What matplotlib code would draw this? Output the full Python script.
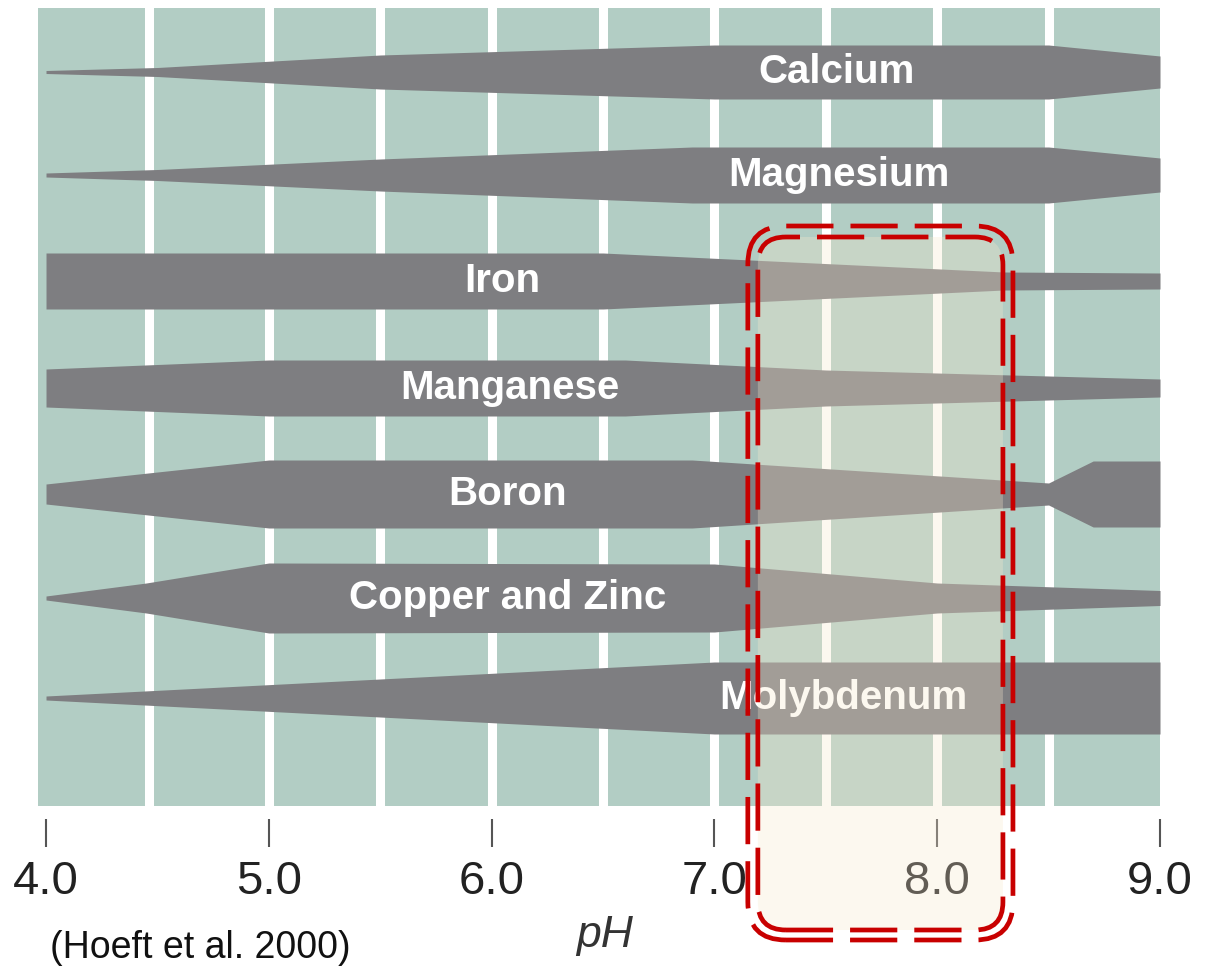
# Nutrient availability vs. soil pH (after Hoeft et al. 2000)
# band thickness = relative availability

import matplotlib.pyplot as plt
from matplotlib.patches import FancyBboxPatch
from matplotlib.transforms import IdentityTransform

plt.rcParams['font.family'] = ['Liberation Sans', 'DejaVu Sans']

nutrients = ["Calcium", "Magnesium", "Iron", "Manganese", "Boron",
             "Copper and Zinc", "Molybdenum"]

# band centre rows (chart units, top = 8, bottom = 806)
centers = [72, 175, 281, 388, 494, 598, 698]

# pH breakpoints and half-thickness of each band
ph_pts = [
    [4.0, 4.5, 5.5, 7.0, 8.5, 9.0],
    [4.0, 4.5, 5.5, 6.9, 8.5, 9.0],
    [4.0, 6.5, 8.3, 9.0],
    [4.0, 5.0, 6.6, 7.5, 9.0],
    [4.0, 5.0, 6.9, 8.5, 8.7, 9.0],
    [4.0, 4.45, 5.0, 7.0, 8.0, 9.0],
    [4.0, 7.0, 9.0],
]
half_w = [
    [1.5, 4.5, 17, 27, 27, 16],
    [2, 5.5, 16, 28, 28, 17],
    [28, 28, 9, 8],
    [19, 28, 28, 18, 9],
    [10, 34, 34, 11, 33, 33],
    [2, 15, 35, 34, 15, 7.5],
    [2, 36, 36],
]

# where the name sits on each band
label_ph = [7.55, 7.56, 6.05, 6.08, 6.07, 6.07, 7.58]

grid_ph = [4.46, 5.0, 5.5, 6.0, 6.5, 7.0, 7.5, 8.0, 8.5]
tick_ph = [4.0, 5.0, 6.0, 7.0, 8.0, 9.0]
tick_labels = ["4.0", "5.0", "6.0", "7.0", "8.0", "9.0"]

# highlighted pH window (outer / inner dashed outline), vertical extent in chart units
hl_outer = (7.15, 8.34, 226, 940)
hl_inner = (7.195, 8.295, 237, 930)

teal = '#b2cdc4'
band_gray = '#7e7e81'
red = '#c80000'

fig = plt.figure(figsize=(12.07, 9.68), dpi=100)
ax = fig.add_axes([38 / 1207, 1 - 806 / 968, (1160 - 38) / 1207, (806 - 8) / 968])
ax.set_xlim(3.964, 9.0)
ax.set_ylim(806, 8)
ax.set_facecolor(teal)
for s in ax.spines.values():
    s.set_visible(False)

for g in grid_ph:
    ax.axvline(g, color='white', lw=6.5, zorder=1)

for name, c, xs, ws, lx in zip(nutrients, centers, ph_pts, half_w, label_ph):
    ax.fill_between(xs, [c - w for w in ws], [c + w for w in ws],
                    color=band_gray, lw=0, zorder=2)
    ax.text(lx, c, name, color='white', fontsize=29, fontweight='bold',
            ha='center', va='center', zorder=3)

ax.set_yticks([])
ax.set_xticks(tick_ph)
ax.set_xticklabels(tick_labels)
ax.spines['bottom'].set_position(('outward', 9))
ax.tick_params(axis='x', length=20, width=1.5, color='#555555', pad=10,
               labelsize=34, labelcolor='#222222')

fig.text(605 / 1207, 1 - 935 / 968, "pH", fontsize=32, style='italic',
         color='#333333', ha='center', va='center')
fig.text(50 / 1207, 1 - 948 / 968, "(Hoeft et al. 2000)", fontsize=27,
         color='#111111', ha='left', va='center')


def px_box(box):
    x0, x1, y0, y1 = box
    (px0, py0) = ax.transData.transform((x0, y1))
    (px1, py1) = ax.transData.transform((x1, y0))
    return px0, py0, px1 - px0, py1 - py0


# cream tint inside the window
bx, by, bw, bh = px_box(hl_inner)
ax.add_patch(FancyBboxPatch((bx, by), bw, bh,
                            boxstyle="round,pad=0,rounding_size=28",
                            transform=IdentityTransform(), facecolor='#f8e8cd',
                            edgecolor='none', alpha=0.3, zorder=5, clip_on=False))

for box, r in [(hl_outer, 38), (hl_inner, 28)]:
    bx, by, bw, bh = px_box(box)
    ax.add_patch(FancyBboxPatch((bx, by), bw, bh,
                                boxstyle=f"round,pad=0,rounding_size={r}",
                                transform=IdentityTransform(), facecolor='none',
                                edgecolor=red, lw=3.4, linestyle=(0, (10, 3.6)),
                                zorder=6, clip_on=False))

fig.savefig('out.png', dpi=100)
